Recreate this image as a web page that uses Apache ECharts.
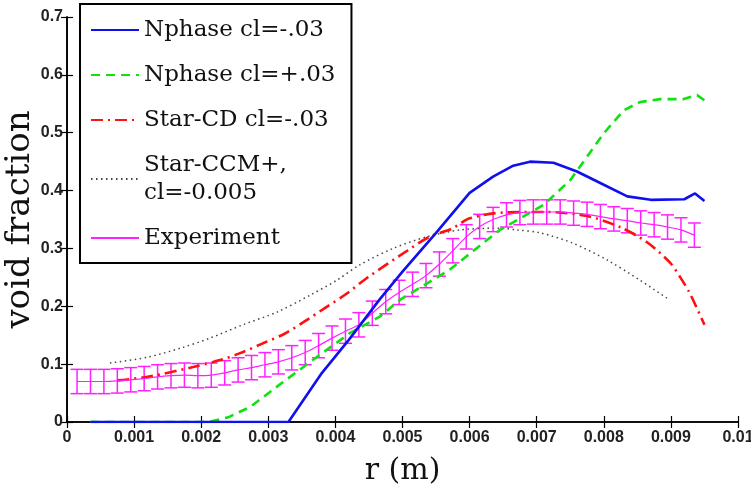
<!DOCTYPE html>
<html>
<head>
<meta charset="utf-8">
<script src="https://cdn.jsdelivr.net/npm/echarts@6/dist/echarts.min.js"></script>
<style>
html, body { margin: 0; padding: 0; background: #fff; }
#chart { width: 751px; height: 488px; }
</style>
</head>
<body>
<div id="chart"></div>
<script>
// Nphase cl=-.03
var nphaseNegR  = [0.00035, 0.0033, 0.0038, 0.0042, 0.00466, 0.005, 0.0055, 0.006, 0.00635, 0.00665, 0.0069, 0.00725, 0.0076, 0.008, 0.00835, 0.0087, 0.0092, 0.00936, 0.0095];
var nphaseNegVf = [0, 0, 0.085, 0.142, 0.212, 0.26, 0.327, 0.396, 0.424, 0.443, 0.45, 0.448, 0.433, 0.41, 0.39, 0.384, 0.385, 0.395, 0.382];

// Nphase cl=+.03
var nphasePosR  = [0.00035, 0.0021, 0.0024, 0.00273, 0.00322, 0.00372, 0.00422, 0.00466, 0.00496, 0.0057, 0.00645, 0.0071, 0.0075, 0.008, 0.0083, 0.00854, 0.00884, 0.00918, 0.00939, 0.0095];
var nphasePosVf = [0, 0, 0.008, 0.026, 0.069, 0.112, 0.154, 0.182, 0.211, 0.263, 0.332, 0.375, 0.418, 0.499, 0.539, 0.553, 0.558, 0.558, 0.565, 0.556];

// Star-CD cl=-.03
var starCdR  = [0.00075, 0.0012, 0.00188, 0.00228, 0.00258, 0.00292, 0.00325, 0.00357, 0.00387, 0.00417, 0.00447, 0.00507, 0.0054, 0.00575, 0.006, 0.0065, 0.00715, 0.00775, 0.00824, 0.00864, 0.00899, 0.00914, 0.00928, 0.0095];
var starCdVf = [0.072, 0.078, 0.095, 0.107, 0.119, 0.136, 0.153, 0.176, 0.199, 0.222, 0.249, 0.296, 0.32, 0.335, 0.352, 0.362, 0.363, 0.356, 0.337, 0.311, 0.275, 0.25, 0.223, 0.168];

// Star-CCM+, cl=-0.005
var starCcmR  = [0.00064, 0.0012, 0.0017, 0.00213, 0.00262, 0.00313, 0.00362, 0.00402, 0.00437, 0.00486, 0.00536, 0.00586, 0.00645, 0.0067, 0.00705, 0.00754, 0.00805, 0.00854, 0.00894];
var starCcmVf = [0.102, 0.112, 0.128, 0.145, 0.168, 0.19, 0.219, 0.245, 0.272, 0.3, 0.32, 0.332, 0.335, 0.332, 0.327, 0.309, 0.28, 0.245, 0.214];

// Experiment
var expR  = [0.00015, 0.00035, 0.00055, 0.00075, 0.00095, 0.00115, 0.00135, 0.00155, 0.00175, 0.00195,
             0.00215, 0.00235, 0.00255, 0.00275, 0.00295, 0.00315, 0.00335, 0.00355, 0.00375, 0.00395,
             0.00415, 0.00435, 0.00455, 0.00475, 0.00495, 0.00515, 0.00535, 0.00555, 0.00575, 0.00595,
             0.00615, 0.00635, 0.00655, 0.00675, 0.00695, 0.00715, 0.00735, 0.00755, 0.00775, 0.00795,
             0.00815, 0.00835, 0.00855, 0.00875, 0.00895, 0.00915, 0.00935];
var expVf = [0.070, 0.070, 0.070, 0.071, 0.073, 0.075, 0.078, 0.080, 0.081, 0.080,
             0.081, 0.085, 0.090, 0.094, 0.099, 0.104, 0.111, 0.120, 0.132, 0.145,
             0.157, 0.168, 0.188, 0.208, 0.224, 0.238, 0.253, 0.273, 0.296, 0.320,
             0.338, 0.350, 0.358, 0.362, 0.363, 0.363, 0.363, 0.361, 0.359, 0.355,
             0.351, 0.348, 0.344, 0.341, 0.337, 0.332, 0.323];
var expErr = 0.021;

var serif = 'DejaVu Serif';
var sans = 'Liberation Sans';

function pairs(xs, ys) {
	return xs.map(function(x, i) { return [x, ys[i]]; });
}

var chart = echarts.init(document.getElementById('chart'));

var tickLabel = { fontFamily: sans, fontWeight: 'bold', fontSize: 16, color: '#222' };
var blackLine = { lineStyle: { color: '#000', width: 1.6 } };

var option = {
	animation: false,
	backgroundColor: '#fff',
	grid: { left: 67, right: 13, top: 17, bottom: 66, outerBoundsMode: 'none', containLabel: false },
	legend: {
		orient: 'vertical',
		left: 80,
		top: 4,
		padding: [12, 16, 11, 10],
		itemWidth: 48,
		itemHeight: 14,
		itemGap: 17,
		backgroundColor: '#fff',
		borderColor: '#000',
		borderWidth: 2,
		itemStyle: { opacity: 0 },
		textStyle: { fontFamily: serif, fontSize: 23, color: '#111', lineHeight: 28 },
		data: ['Nphase cl=-.03', 'Nphase cl=+.03', 'Star-CD cl=-.03', 'Star-CCM+,\ncl=-0.005', 'Experiment']
	},
	xAxis: [{
		type: 'value', min: 0, max: 0.01, interval: 0.001,
		name: 'r (m)', nameLocation: 'middle', nameGap: 34,
		nameTextStyle: { fontFamily: serif, fontSize: 30, color: '#111' },
		axisLine: blackLine,
		axisTick: { inside: true, length: 6, lineStyle: { color: '#000', width: 1.2 } },
		axisLabel: Object.assign({ margin: 8 }, tickLabel),
		splitLine: { show: false }
	}, {
		type: 'value', min: 0, max: 0.01, interval: 0.001, position: 'top',
		axisLine: blackLine,
		axisTick: { inside: true, length: 6, lineStyle: { color: '#000', width: 1.2 } },
		axisLabel: { show: false },
		splitLine: { show: false }
	}],
	yAxis: [{
		type: 'value', min: 0, max: 0.7, interval: 0.1,
		name: 'void fraction', nameLocation: 'middle', nameGap: 30, nameRotate: 90,
		nameMoveOverlap: false,
		nameTextStyle: { fontFamily: serif, fontSize: 34, color: '#111' },
		axisLine: blackLine,
		axisTick: { inside: true, length: 6, lineStyle: { color: '#000', width: 1.2 } },
		axisLabel: Object.assign({ margin: 4 }, tickLabel),
		splitLine: { show: false }
	}, {
		type: 'value', min: 0, max: 0.7, interval: 0.1, position: 'right',
		axisLine: blackLine,
		axisTick: { inside: true, length: 6, lineStyle: { color: '#000', width: 1.2 } },
		axisLabel: { show: false },
		splitLine: { show: false }
	}],
	series: [{
		name: 'Nphase cl=-.03', type: 'line', symbol: 'none',
		lineStyle: { color: '#1010ee', width: 2.6 }, itemStyle: { color: '#1010ee' },
		data: pairs(nphaseNegR, nphaseNegVf), z: 4
	}, {
		name: 'Nphase cl=+.03', type: 'line', symbol: 'none',
		lineStyle: { color: '#11e011', width: 2.6, type: [9, 6] }, itemStyle: { color: '#11e011' },
		data: pairs(nphasePosR, nphasePosVf), z: 3
	}, {
		name: 'Star-CD cl=-.03', type: 'line', symbol: 'none', smooth: 0.3,
		lineStyle: { color: '#ff1010', width: 2.6, type: [12, 5, 2, 5] }, itemStyle: { color: '#ff1010' },
		data: pairs(starCdR, starCdVf), z: 3
	}, {
		name: 'Star-CCM+,\ncl=-0.005', type: 'line', symbol: 'none', smooth: 0.3,
		lineStyle: { color: '#444', width: 1.5, type: [1.5, 3.5] }, itemStyle: { color: '#444' },
		data: pairs(starCcmR, starCcmVf), z: 2
	}, {
		name: 'Experiment', type: 'line', symbol: 'none', smooth: 0.3,
		lineStyle: { color: '#ff20ff', width: 1.2 }, itemStyle: { color: '#ff20ff' },
		data: pairs(expR, expVf), z: 3
	}, {
		name: 'expErr', type: 'custom',
		data: expR.map(function(r, i) { return [r, expVf[i], expErr]; }),
		encode: { x: 0, y: 1 },
		z: 3,
		renderItem: function(params, api) {
			var x = api.value(0), y = api.value(1), e = api.value(2);
			var hi = api.coord([x, y + e]);
			var lo = api.coord([x, y - e]);
			var w = 6.5;
			var st = { stroke: '#ff20ff', lineWidth: 1.5 };
			return {
				type: 'group',
				children: [
					{ type: 'line', shape: { x1: hi[0], y1: hi[1], x2: lo[0], y2: lo[1] }, style: st },
					{ type: 'line', shape: { x1: hi[0] - w, y1: hi[1], x2: hi[0] + w, y2: hi[1] }, style: st },
					{ type: 'line', shape: { x1: lo[0] - w, y1: lo[1], x2: lo[0] + w, y2: lo[1] }, style: st }
				]
			};
		}
	}]
};

chart.setOption(option);
</script>
</body>
</html>
